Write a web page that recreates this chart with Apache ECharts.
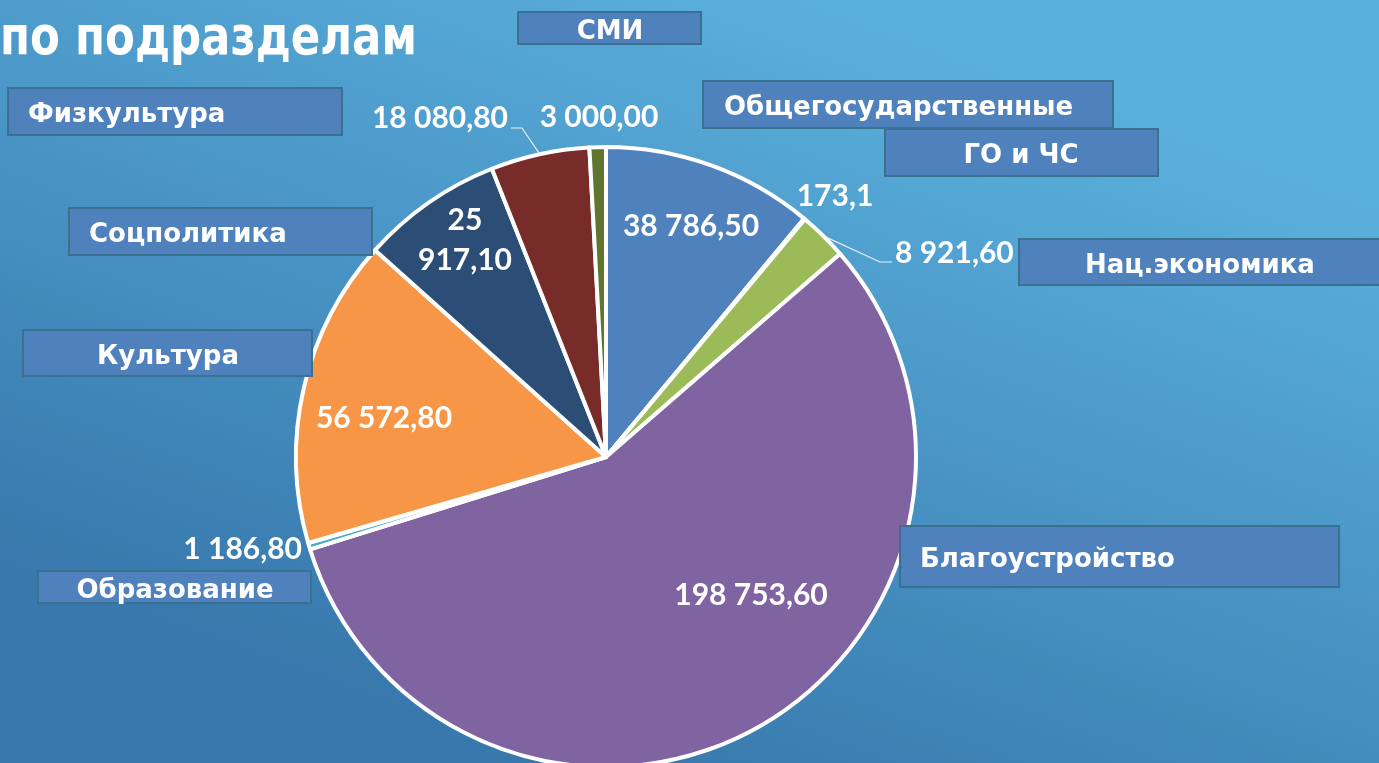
<!DOCTYPE html>
<html>
<head>
<meta charset="utf-8">
<script src="https://cdn.jsdelivr.net/npm/echarts@6/dist/echarts.min.js"></script>
<style>
  html, body { margin: 0; padding: 0; }
  #chart { width: 1379px; height: 763px; }
</style>
</head>
<body>
<div id="chart"></div>
<script>
// разделы и суммы
var categories = ['Общегосударственные', 'ГО и ЧС', 'Нац.экономика', 'Благоустройство', 'Образование',
                  'Культура', 'Соцполитика', 'Физкультура', 'СМИ']
var values = [38786.5, 173.1, 8921.6, 198753.6, 1186.8, 56572.8, 25917.1, 18080.8, 3000.0]
var valueLabels = ['38 786,50', '173,1', '8 921,60', '198 753,60', '1 186,80',
                   '56 572,80', '25\n917,10', '18 080,80', '3 000,00']
var titleText = 'по подразделам'

var colors = ['#4F81BD', '#C0504D', '#9BBB59', '#8064A2', '#4BACC6', '#F79646', '#2C4D75', '#772C2A', '#5F7530']

// где стоят подписи значений (как в исходном слайде)
var labelPos = [
  [691, 226, 'center'], [835, 196, 'center'], [895, 253, 'left'], [751, 595, 'center'],
  [302, 549, 'right'], [384, 418, 'center'], [465, 240, 'center'], [508, 118, 'right'], [599, 117, 'center']
]
var insideIdx = [0, 3, 5, 6]
var lineIdx = { 2: [[880, 262], [892, 262]], 7: [[522, 128], [511, 128]] }

// плашки с названиями: x, y, w, h, выравнивание, x текста
var boxes = [
  [703, 81, 410, 47, 'left', 724],
  [885, 129, 273, 47, 'center', 1021],
  [1019, 239, 365, 46, 'left', 1085],
  [900, 526, 439, 61, 'left', 920],
  [38, 571, 273, 32, 'center', 175],
  [23, 330, 289, 46, 'center', 168],
  [69, 208, 303, 47, 'left', 89],
  [8, 88, 334, 47, 'left', 28],
  [518, 12, 183, 32, 'center', 610]
]

var pieData = categories.map(function (name, i) {
  var inside = insideIdx.indexOf(i) >= 0
  return {
    name: name,
    value: values[i],
    itemStyle: { color: colors[i] },
    label: { position: inside ? 'inside' : 'outside' },
    labelLine: { show: !!lineIdx[i] }
  }
})

var graphics = [{
  type: 'text',
  x: 0, y: 40,
  scaleX: 0.82,
  style: { text: titleText, fill: '#fff', font: 'bold 53px "DejaVu Sans"', textVerticalAlign: 'middle' }
}]
categories.forEach(function (name, i) {
  var b = boxes[i]
  graphics.push({
    type: 'rect',
    shape: { x: b[0], y: b[1], width: b[2], height: b[3] },
    style: { fill: '#4F81BD', stroke: '#3A7090', lineWidth: 2 },
    z: 10
  })
  graphics.push({
    type: 'text',
    x: b[5], y: b[1] + b[3] / 2 + 4,
    style: {
      text: name, fill: '#fff', font: 'bold 26px "DejaVu Sans"',
      textAlign: b[4], textVerticalAlign: 'middle'
    },
    z: 11
  })
})

var myChart = echarts.init(document.getElementById('chart'))
var option = {
  backgroundColor: new echarts.graphic.LinearGradient(0.6, 0, 0.4, 1, [
    { offset: 0, color: '#5AB0DD' },
    { offset: 1, color: '#3878AC' }
  ]),
  animation: false,
  graphic: graphics,
  series: [{
    type: 'pie',
    center: [606, 457],
    radius: 310,
    startAngle: 90,
    clockwise: true,
    avoidLabelOverlap: false,
    itemStyle: { borderColor: '#fff', borderWidth: 4 },
    label: {
      show: true,
      color: '#fff',
      fontFamily: 'Lato',
      fontWeight: 'bold',
      fontSize: 30,
      lineHeight: 40,
      formatter: function (p) { return valueLabels[p.dataIndex] }
    },
    labelLine: { lineStyle: { color: '#e8eef2', width: 1.2 }, length: 10, length2: 10 },
    labelLayout: function (p) {
      var lp = labelPos[p.dataIndex]
      var res = { x: lp[0], y: lp[1], align: lp[2], verticalAlign: 'middle' }
      var extra = lineIdx[p.dataIndex]
      if (extra && p.labelLinePoints) {
        res.labelLinePoints = [p.labelLinePoints[0], extra[0], extra[1]]
      }
      return res
    },
    emphasis: { disabled: true },
    data: pieData
  }]
}
myChart.setOption(option)
</script>
</body>
</html>
